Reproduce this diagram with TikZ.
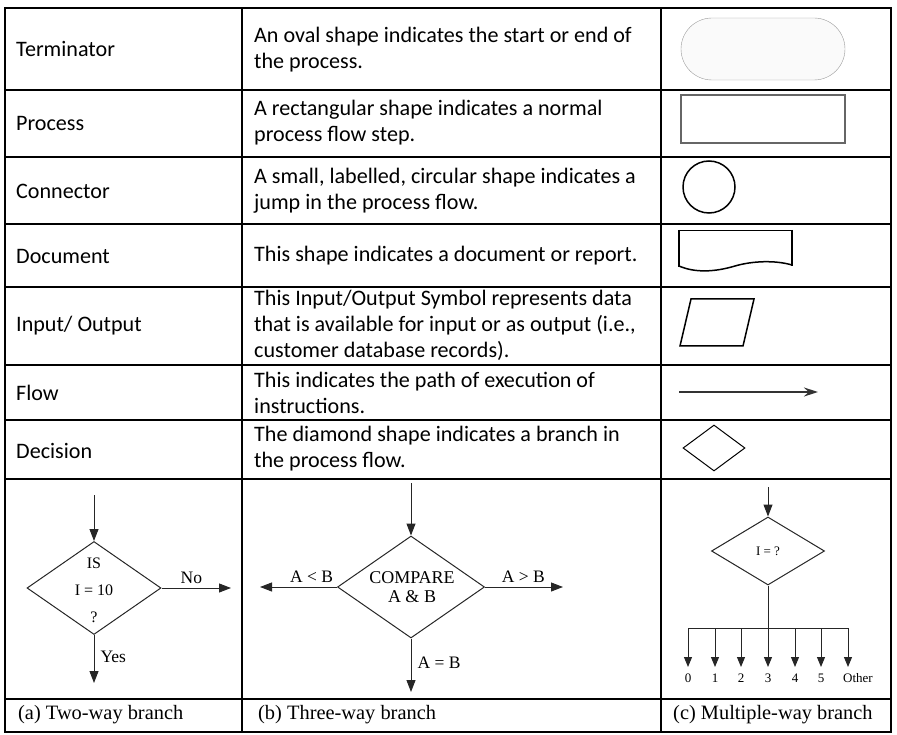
\documentclass[tikz,border=0pt]{standalone}
\usepackage{fontspec}
\setmainfont{Carlito}
\newfontfamily\timesfont{Liberation Serif}
\usepackage{tikz}
\usetikzlibrary{positioning, arrows.meta, shapes.geometric}
\tikzset{
rule/.style={line width=1.2pt}, % the lines of the table
cell/.style={inner sep=0pt, anchor=west, align=left, font=\fontsize{22.1}{26}\selectfont}, % text in the table cells
captext/.style={inner sep=0pt, anchor=west, font=\timesfont\fontsize{20.4}{24}\selectfont}, % captions under the branches
branch/.style={line width=1pt, draw=black!85, -{Triangle[length=12pt, width=9pt]}}, % arrows of the branch pictures
dia/.style={diamond, draw=black!85, line width=1pt, inner sep=0pt}, % decision boxes
lbl/.style={inner sep=0pt, font=\timesfont\fontsize{17.5}{20}\selectfont}, % labels in the branch pictures
}
\begin{document}
\begin{tikzpicture}[x=1pt, y=-1pt]
    \useasboundingbox (0,0) rectangle (897,735);
    % table
    \draw[rule] (5,8) rectangle (891,732);
    \foreach \r in {90,157,224,287,365,420,479,699}
        \draw[rule] (5,\r) -- (891,\r);
    \draw[rule] (242,8) -- (242,732);
    \draw[rule] (661,8) -- (661,732);

    % names and descriptions
    \node[cell] (nTerm) at (16,49) {Terminator};
    \node[cell] (dTerm) at (254,50) {An oval shape indicates the start or end of\\the process.};
    \node[cell] (nProc) at (16,123) {Process};
    \node[cell] (dProc) at (254,123) {A rectangular shape indicates a normal\\process flow step.};
    \node[cell] (nConn) at (16,191) {Connector};
    \node[cell] (dConn) at (254,191) {A small, labelled, circular shape indicates a\\jump in the process flow.};
    \node[cell] (nDoc) at (16,256) {Document};
    \node[cell] (dDoc) at (254,256) {This shape indicates a document or report.};
    \node[cell] (nIO) at (16,326) {Input/ Output};
    \node[cell] (dIO) at (254,325) {This Input/Output Symbol represents data\\that is available for input or as output (i.e.,\\customer database records).};
    \node[cell] (nFlow) at (16,393) {Flow};
    \node[cell] (dFlow) at (254,393) {This indicates the path of execution of\\instructions.};
    \node[cell] (nDec) at (16,451) {Decision};
    \node[cell] (dDec) at (254,449) {The diamond shape indicates a branch in\\the process flow.};

    % symbols
    \node[draw=black!40, fill=black!2, rounded corners=31pt, minimum width=164pt, minimum height=62pt, inner sep=0pt] (term) at (763,49) {};
    \node[draw=black!60, line width=1.5pt, minimum width=164pt, minimum height=48pt, inner sep=0pt] (proc) at (763,119) {};
    \node[circle, draw, line width=1.5pt, minimum size=52pt, inner sep=0pt] (conn) at (709,187) {};
    \draw[line width=1pt] (679,231) -- (792,231);
    \draw[line width=2.5pt] (679,230) -- (679,267);
    \draw[line width=2.5pt] (792,230) -- (792,266);
    \draw[line width=1.5pt] (679,266) .. controls (695,273) and (715,272) .. (735,266) .. controls (752,261) and (775,260) .. (792,265);
    \draw[line width=1.5pt] (691,299) -- (754,299) -- (743,346) -- (680,346) -- cycle;
    \coordinate (fStart) at (679,392);
    \coordinate (fEnd) at (818,392);
    \draw[line width=1.5pt, draw=black!80, -{Stealth[length=14pt, width=9pt]}] (fStart) -- (fEnd);
    \node[dia, draw=black, minimum width=62pt, minimum height=46pt] (dec) at (714,448) {};

    % (a) two-way branch
    \node[dia, minimum width=134pt, minimum height=93pt] (da) at (94,588) {};
    \node[lbl, align=center, font=\timesfont\fontsize{16}{27}\selectfont] (qa) at (94,590) {IS\\I = 10\\?};
    \coordinate (aIn) at (94,495);
    \coordinate (aNo) at (231,588);
    \coordinate (aYes) at (94,683);
    \draw[branch] (aIn) -- (da.north);
    \draw[branch] (da.east) -- node[lbl, above=4pt, pos=0.43] {No} (aNo);
    \draw[branch] (da.south) -- node[lbl, right=6pt, pos=0.45] {Yes} (aYes);

    % (b) three-way branch
    \node[dia, minimum width=147pt, minimum height=102pt] (db) at (411,587) {};
    \node[lbl, align=center, font=\timesfont\fontsize{18}{19}\selectfont] (qb) at (412,587) {COMPARE\\A \& B};
    \coordinate (bIn) at (411,483);
    \coordinate (bLt) at (260,587);
    \coordinate (bGt) at (563,587);
    \coordinate (bEq) at (411,692);
    \draw[branch] (bIn) -- (db.north);
    \draw[branch] (db.west) -- node[lbl, above=4pt, pos=0.33] {A < B} (bLt);
    \draw[branch] (db.east) -- node[lbl, above=4pt, pos=0.49] {A > B} (bGt);
    \draw[branch] (db.south) -- node[lbl, right=6pt, pos=0.45] {A = B} (bEq);

    % (c) multiple-way branch
    \node[dia, minimum width=113pt, minimum height=68pt] (dc) at (768,551) {};
    \node[lbl, font=\timesfont\fontsize{13}{15}\selectfont] (qc) at (dc.center) {I = ?};
    \coordinate (cIn) at (768,487);
    \coordinate (cBar) at (768,628);
    \coordinate (cL) at (688,628);
    \coordinate (cR) at (848,628);
    \draw[branch] (cIn) -- (dc.north);
    \draw[line width=1pt, draw=black!85] (dc.south) -- (cBar);
    \draw[line width=1pt, draw=black!85] (cL) -- (cR);
    \foreach \x/\lx/\v [count=\i] in {688/688/0, 715/715/1, 741/741/2, 768/768/3, 795/795/4, 821/821/5, 848/858/Other}{
        \coordinate (cT\i) at (\x,628);
        \coordinate (cB\i) at (\x,667);
        \draw[branch, -{Triangle[length=10pt, width=8pt]}] (cT\i) -- (cB\i);
        \node[lbl, font=\timesfont\fontsize{13}{15}\selectfont] (cV\i) at (\lx,678) {\v};
    }

    % captions
    \node[captext] (capA) at (18,715) {(a) Two-way branch};
    \node[captext] (capB) at (258,715) {(b) Three-way branch};
    \node[captext] (capC) at (673,715) {(c) Multiple-way branch};
\end{tikzpicture}
\end{document}
